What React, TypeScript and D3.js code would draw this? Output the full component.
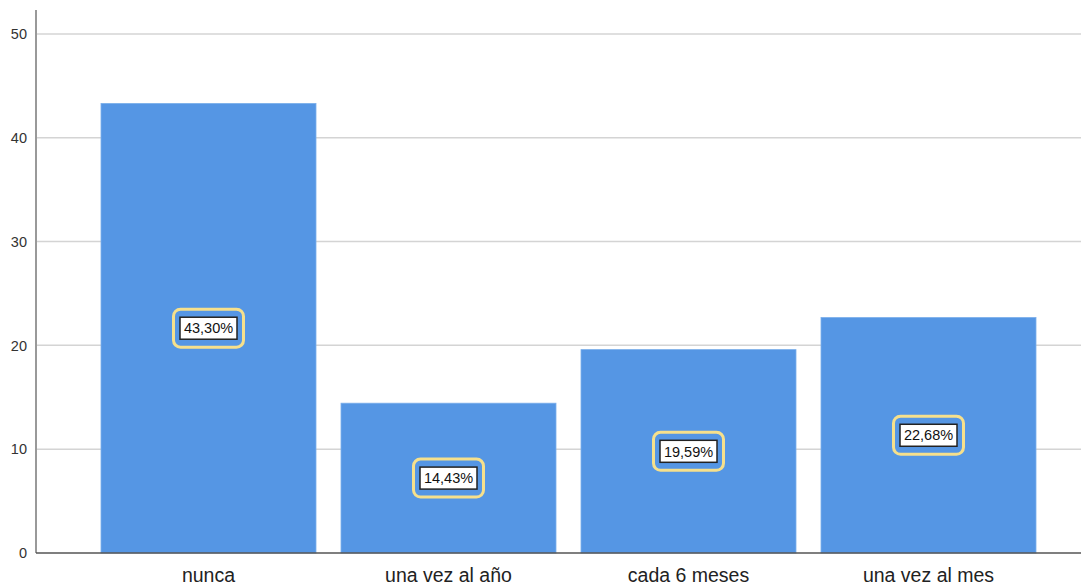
import React from "react";
import * as d3 from "d3";

const categories = ["nunca", "una vez al año", "cada 6 meses", "una vez al mes"];
const percents = [43.3, 14.43, 19.59, 22.68];
const percentLabels = ["43,30%", "14,43%", "19,59%", "22,68%"];
const yTicks = [0, 10, 20, 30, 40, 50];

const W = 1081;
const H = 586;
const FONT = "'Liberation Sans', Arial, sans-serif";

export default function App() {
  const x0 = 36;
  const x1 = 1081;
  const yBottom = 553;
  const yTop = 10;

  const p = 25 / 240;
  const x = d3
    .scaleBand<string>()
    .domain(categories)
    .range([88.5, 1048.5])
    .paddingInner(p)
    .paddingOuter(p / 2);

  const y = d3.scaleLinear().domain([0, 52.3]).range([yBottom, yTop]);

  const boxOuterW = 70;
  const boxOuterH = 38;
  const boxInnerW = 57;
  const boxInnerH = 22;

  return (
    <svg
      width={W}
      height={H}
      style={{ position: "absolute", left: 0, top: 0, background: "#fff" }}
    >
      {yTicks.map((t) => (
        <g key={t}>
          {t > 0 && (
            <line x1={x0} x2={x1} y1={y(t)} y2={y(t)} stroke="#d4d4d4" strokeWidth={1.5} />
          )}
          <text
            x={27}
            y={y(t)}
            dy="0.36em"
            textAnchor="end"
            fontFamily={FONT}
            fontSize={14.5}
            fill="#333"
          >
            {t}
          </text>
        </g>
      ))}
      {categories.map((c, i) => {
        const bx = x(c)!;
        const bw = x.bandwidth();
        const top = y(percents[i]);
        const cx = bx + bw / 2;
        const cy = y(percents[i] / 2);
        return (
          <g key={c}>
            <rect x={bx} y={top} width={bw} height={yBottom - top} fill="#5596e4" stroke="#7aaeea" strokeWidth={0.8} />
            <rect
              x={cx - boxOuterW / 2}
              y={cy - boxOuterH / 2}
              width={boxOuterW}
              height={boxOuterH}
              rx={7}
              fill="#5596e4"
              stroke="#f6e08c"
              strokeWidth={3}
            />
            <rect
              x={cx - boxInnerW / 2}
              y={cy - boxInnerH / 2}
              width={boxInnerW}
              height={boxInnerH}
              fill="#fff"
              stroke="#222"
              strokeWidth={1.5}
            />
            <text
              x={cx}
              y={cy}
              dy="0.36em"
              textAnchor="middle"
              fontFamily={FONT}
              fontSize={14.5}
              fill="#111"
            >
              {percentLabels[i]}
            </text>
            <text
              x={cx}
              y={582}
              textAnchor="middle"
              fontFamily={FONT}
              fontSize={19.5}
              fill="#222"
            >
              {c}
            </text>
          </g>
        );
      })}
      <line x1={x0} x2={x0} y1={yTop} y2={yBottom} stroke="#999" strokeWidth={2} />
      <line x1={x0} x2={x1} y1={yBottom} y2={yBottom} stroke="#555" strokeWidth={1.5} />
    </svg>
  );
}
